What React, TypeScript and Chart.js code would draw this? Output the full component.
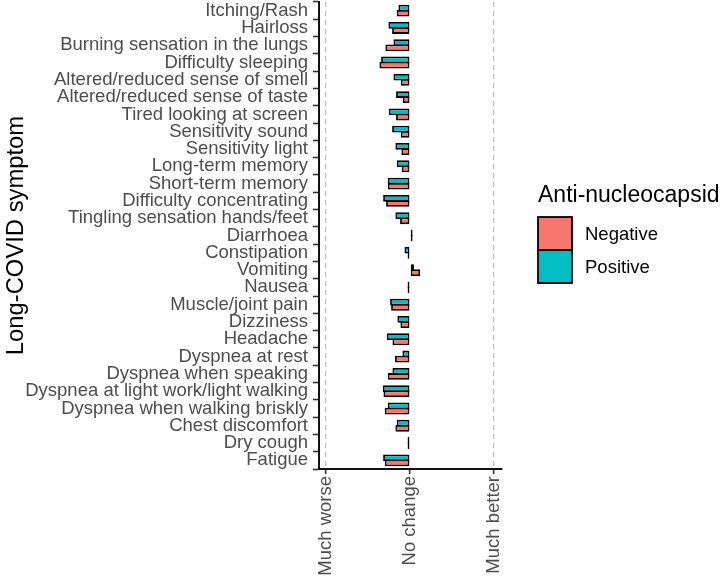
import React, { useEffect, useRef } from "react";
import { Chart, registerables } from "chart.js";

Chart.register(...registerables);

const categories = [
  "Itching/Rash",
  "Hairloss",
  "Burning sensation in the lungs",
  "Difficulty sleeping",
  "Altered/reduced sense of smell",
  "Altered/reduced sense of taste",
  "Tired looking at screen",
  "Sensitivity sound",
  "Sensitivity light",
  "Long-term memory",
  "Short-term memory",
  "Difficulty concentrating",
  "Tingling sensation hands/feet",
  "Diarrhoea",
  "Constipation",
  "Vomiting",
  "Nausea",
  "Muscle/joint pain",
  "Dizziness",
  "Headache",
  "Dyspnea at rest",
  "Dyspnea when speaking",
  "Dyspnea at light work/light walking",
  "Dyspnea when walking briskly",
  "Chest discomfort",
  "Dry cough",
  "Fatigue",
];

const positiveValues = [
  -0.139, -0.258, -0.198, -0.345, -0.198, -0.167, -0.254, -0.214, -0.175,
  -0.159, -0.266, -0.321, -0.175, 0.012, -0.067, 0.048, -0.015, -0.238,
  -0.151, -0.278, -0.091, -0.21, -0.325, -0.266, -0.159, -0.015, -0.321,
];

const negativeValues = [
  -0.159, -0.214, -0.294, -0.365, -0.111, -0.087, -0.167, -0.111, -0.103,
  -0.099, -0.266, -0.286, -0.119, 0.012, -0.006, 0.119, -0.015, -0.226,
  -0.115, -0.21, -0.179, -0.266, -0.317, -0.302, -0.175, -0.015, -0.302,
];

const seriesNames = ["Negative", "Positive"];
const seriesColors = ["#F8766D", "#00BFC4"];

const xTickValues = [-1, 0, 1];
const xTickLabels = ["Much worse", "No change", "Much better"];

const FONT = "'Liberation Sans', Arial, sans-serif";

const legendPlugin = {
  id: "ggLegend",
  afterDraw(chart: any) {
    const ctx = chart.ctx;
    ctx.save();
    ctx.fillStyle = "#000";
    ctx.font = `23px ${FONT}`;
    ctx.textBaseline = "alphabetic";
    ctx.textAlign = "left";
    ctx.fillText("Anti-nucleocapsid", 538, 202);
    const boxX = 538;
    const boxW = 34;
    const boxH = 33;
    const startY = 217;
    seriesNames.forEach((name, i) => {
      const y = startY + i * boxH;
      ctx.fillStyle = seriesColors[i];
      ctx.fillRect(boxX, y, boxW, boxH);
      ctx.lineWidth = 1.8;
      ctx.strokeStyle = "#000";
      ctx.strokeRect(boxX, y, boxW, boxH);
      ctx.fillStyle = "#000";
      ctx.font = `18.5px ${FONT}`;
      ctx.textBaseline = "middle";
      ctx.fillText(name, 585, y + boxH / 2 + 1);
    });
    ctx.restore();
  },
};

export default function App() {
  const canvasRef = useRef<HTMLCanvasElement | null>(null);

  useEffect(() => {
    document.body.style.margin = "0";
    const canvas = canvasRef.current;
    if (!canvas) return;
    const chart = new Chart(canvas, {
      type: "bar",
      data: {
        labels: categories,
        datasets: [
          {
            label: seriesNames[1],
            data: positiveValues,
            backgroundColor: seriesColors[1],
            borderColor: "#000",
            borderWidth: 1.8,
            borderSkipped: false,
            minBarLength: 2.5,
          },
          {
            label: seriesNames[0],
            data: negativeValues,
            backgroundColor: seriesColors[0],
            borderColor: "#000",
            borderWidth: 1.8,
            borderSkipped: false,
            minBarLength: 2.5,
          },
        ],
      },
      options: {
        indexAxis: "y",
        animation: false,
        responsive: false,
        maintainAspectRatio: false,
        datasets: {
          bar: {
            categoryPercentage: 0.6,
            barPercentage: 1.3,
          },
        },
        layout: {
          padding: { top: 2, right: 218, bottom: 0, left: 0 },
        },
        plugins: {
          legend: { display: false },
          tooltip: { enabled: false },
        },
        scales: {
          x: {
            type: "linear",
            position: "bottom",
            min: -1.085,
            max: 1.095,
            afterBuildTicks: (s: any) => {
              s.ticks = xTickValues.map((v) => ({ value: v }));
            },
            afterFit: (s: any) => {
              s.height = 113;
            },
            ticks: {
              autoSkip: false,
              minRotation: 90,
              maxRotation: 90,
              padding: 2,
              color: "#4d4d4d",
              font: { size: 18.5, family: FONT },
              callback: (_v: any, i: number) => xTickLabels[i],
            },
            grid: {
              color: (c: any) =>
                c.tick && c.tick.value === 0 ? "rgba(0,0,0,0)" : "#c4c4c4",
              lineWidth: 1.3,
              drawTicks: true,
              tickLength: 5,
              tickColor: "#333",
              tickWidth: 1.6,
            },
            border: {
              display: true,
              color: "#111",
              width: 2,
              dash: [5, 4],
            },
          },
          y: {
            type: "category",
            afterFit: (s: any) => {
              s.width = 319;
              s.paddingTop = 0;
              s.paddingBottom = 0;
            },
            ticks: {
              autoSkip: false,
              color: "#4d4d4d",
              font: { size: 18.5, family: FONT },
              padding: 5,
            },
            grid: {
              display: true,
              drawOnChartArea: false,
              drawTicks: true,
              tickLength: 6,
              tickColor: "#333",
              tickWidth: 1.6,
            },
            border: {
              display: true,
              color: "#111",
              width: 2,
            },
            title: {
              display: true,
              text: "Long-COVID symptom",
              color: "#000",
              font: { size: 23.8, family: FONT },
              padding: { top: 2, bottom: 0 },
            },
          },
        },
      },
      plugins: [legendPlugin],
    });
    return () => chart.destroy();
  }, []);

  return (
    <div style={{ width: 720, height: 582 }}>
      <canvas ref={canvasRef} width={720} height={582} />
    </div>
  );
}
